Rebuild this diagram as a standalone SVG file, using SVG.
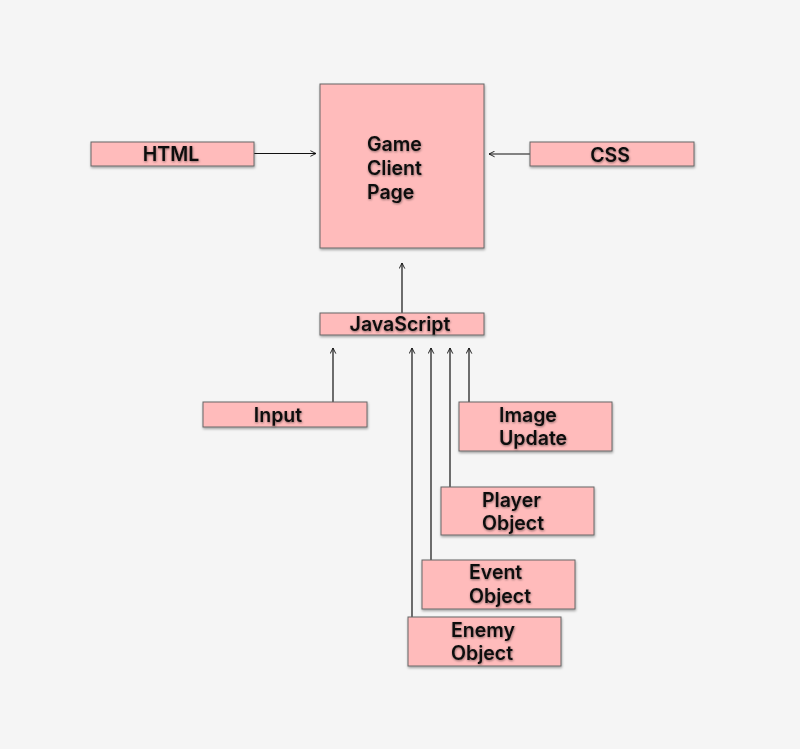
<svg xmlns="http://www.w3.org/2000/svg" width="800" height="749" viewBox="0 0 800 749">
<defs>
<filter id="sh" x="-10%" y="-10%" width="130%" height="140%">
<feDropShadow dx="0.5" dy="1.5" stdDeviation="1" flood-color="#000" flood-opacity="0.35"/>
</filter>
<filter id="tsh" x="-10%" y="-20%" width="130%" height="150%">
<feDropShadow dx="0.5" dy="1" stdDeviation="0.8" flood-color="#000" flood-opacity="0.45"/>
</filter>
<marker id="ah" viewBox="0 0 10 10" refX="9" refY="5" markerWidth="7" markerHeight="7" orient="auto" markerUnits="userSpaceOnUse">
<path d="M1,1 L9,5 L1,9" fill="none" stroke="#111" stroke-width="1.3"/>
</marker>
<style>
.box{fill:#FFBBBB;stroke:#666;stroke-width:1;filter:url(#sh)}
.t{font-family:Inter,"Liberation Sans",sans-serif;font-size:19.5px;font-weight:600;fill:#111;filter:url(#tsh)}
.c{text-anchor:middle}
.ln{stroke:#111;stroke-width:1.2;fill:none;marker-end:url(#ah)}
</style>
</defs>
<rect width="800" height="749" fill="#F5F5F5"/>
<g id="connectors">
<line class="ln" x1="254" y1="153.5" x2="316" y2="153.5"/>
<line class="ln" x1="530" y1="154" x2="489" y2="154"/>
<line class="ln" x1="402" y1="313" x2="402" y2="263"/>
<line class="ln" x1="333" y1="402" x2="333" y2="348"/>
<line class="ln" x1="412" y1="617" x2="412" y2="348"/>
<line class="ln" x1="431" y1="560" x2="431" y2="348"/>
<line class="ln" x1="450" y1="487" x2="450" y2="348"/>
<line class="ln" x1="469" y1="402" x2="469" y2="348"/>
</g>
<g id="game">
<rect class="box" x="320" y="84" width="164" height="164"/>
<text class="t" x="367" y="151">Game</text>
<text class="t" x="367" y="175">Client</text>
<text class="t" x="367" y="199">Page</text>
</g>
<g id="html">
<rect class="box" x="91" y="142" width="163" height="24"/>
<text class="t c" x="171" y="161">HTML</text>
</g>
<g id="css">
<rect class="box" x="530" y="142" width="164" height="24"/>
<text class="t c" x="610" y="162">CSS</text>
</g>
<g id="javascript">
<rect class="box" x="320" y="313" width="164" height="22"/>
<text class="t c" x="400" y="331">JavaScript</text>
</g>
<g id="input">
<rect class="box" x="203" y="402" width="164" height="25"/>
<text class="t c" x="278" y="422">Input</text>
</g>
<g id="image-update">
<rect class="box" x="459" y="402" width="153" height="49"/>
<text class="t" x="499" y="422">Image</text>
<text class="t" x="499" y="445">Update</text>
</g>
<g id="player">
<rect class="box" x="441" y="487" width="153" height="48"/>
<text class="t" x="482" y="507">Player</text>
<text class="t" x="482" y="530">Object</text>
</g>
<g id="event">
<rect class="box" x="422" y="560" width="153" height="49"/>
<text class="t" x="469" y="579">Event</text>
<text class="t" x="469" y="603">Object</text>
</g>
<g id="enemy">
<rect class="box" x="408" y="617" width="153" height="49"/>
<text class="t" x="451" y="637">Enemy</text>
<text class="t" x="451" y="660">Object</text>
</g>
</svg>
